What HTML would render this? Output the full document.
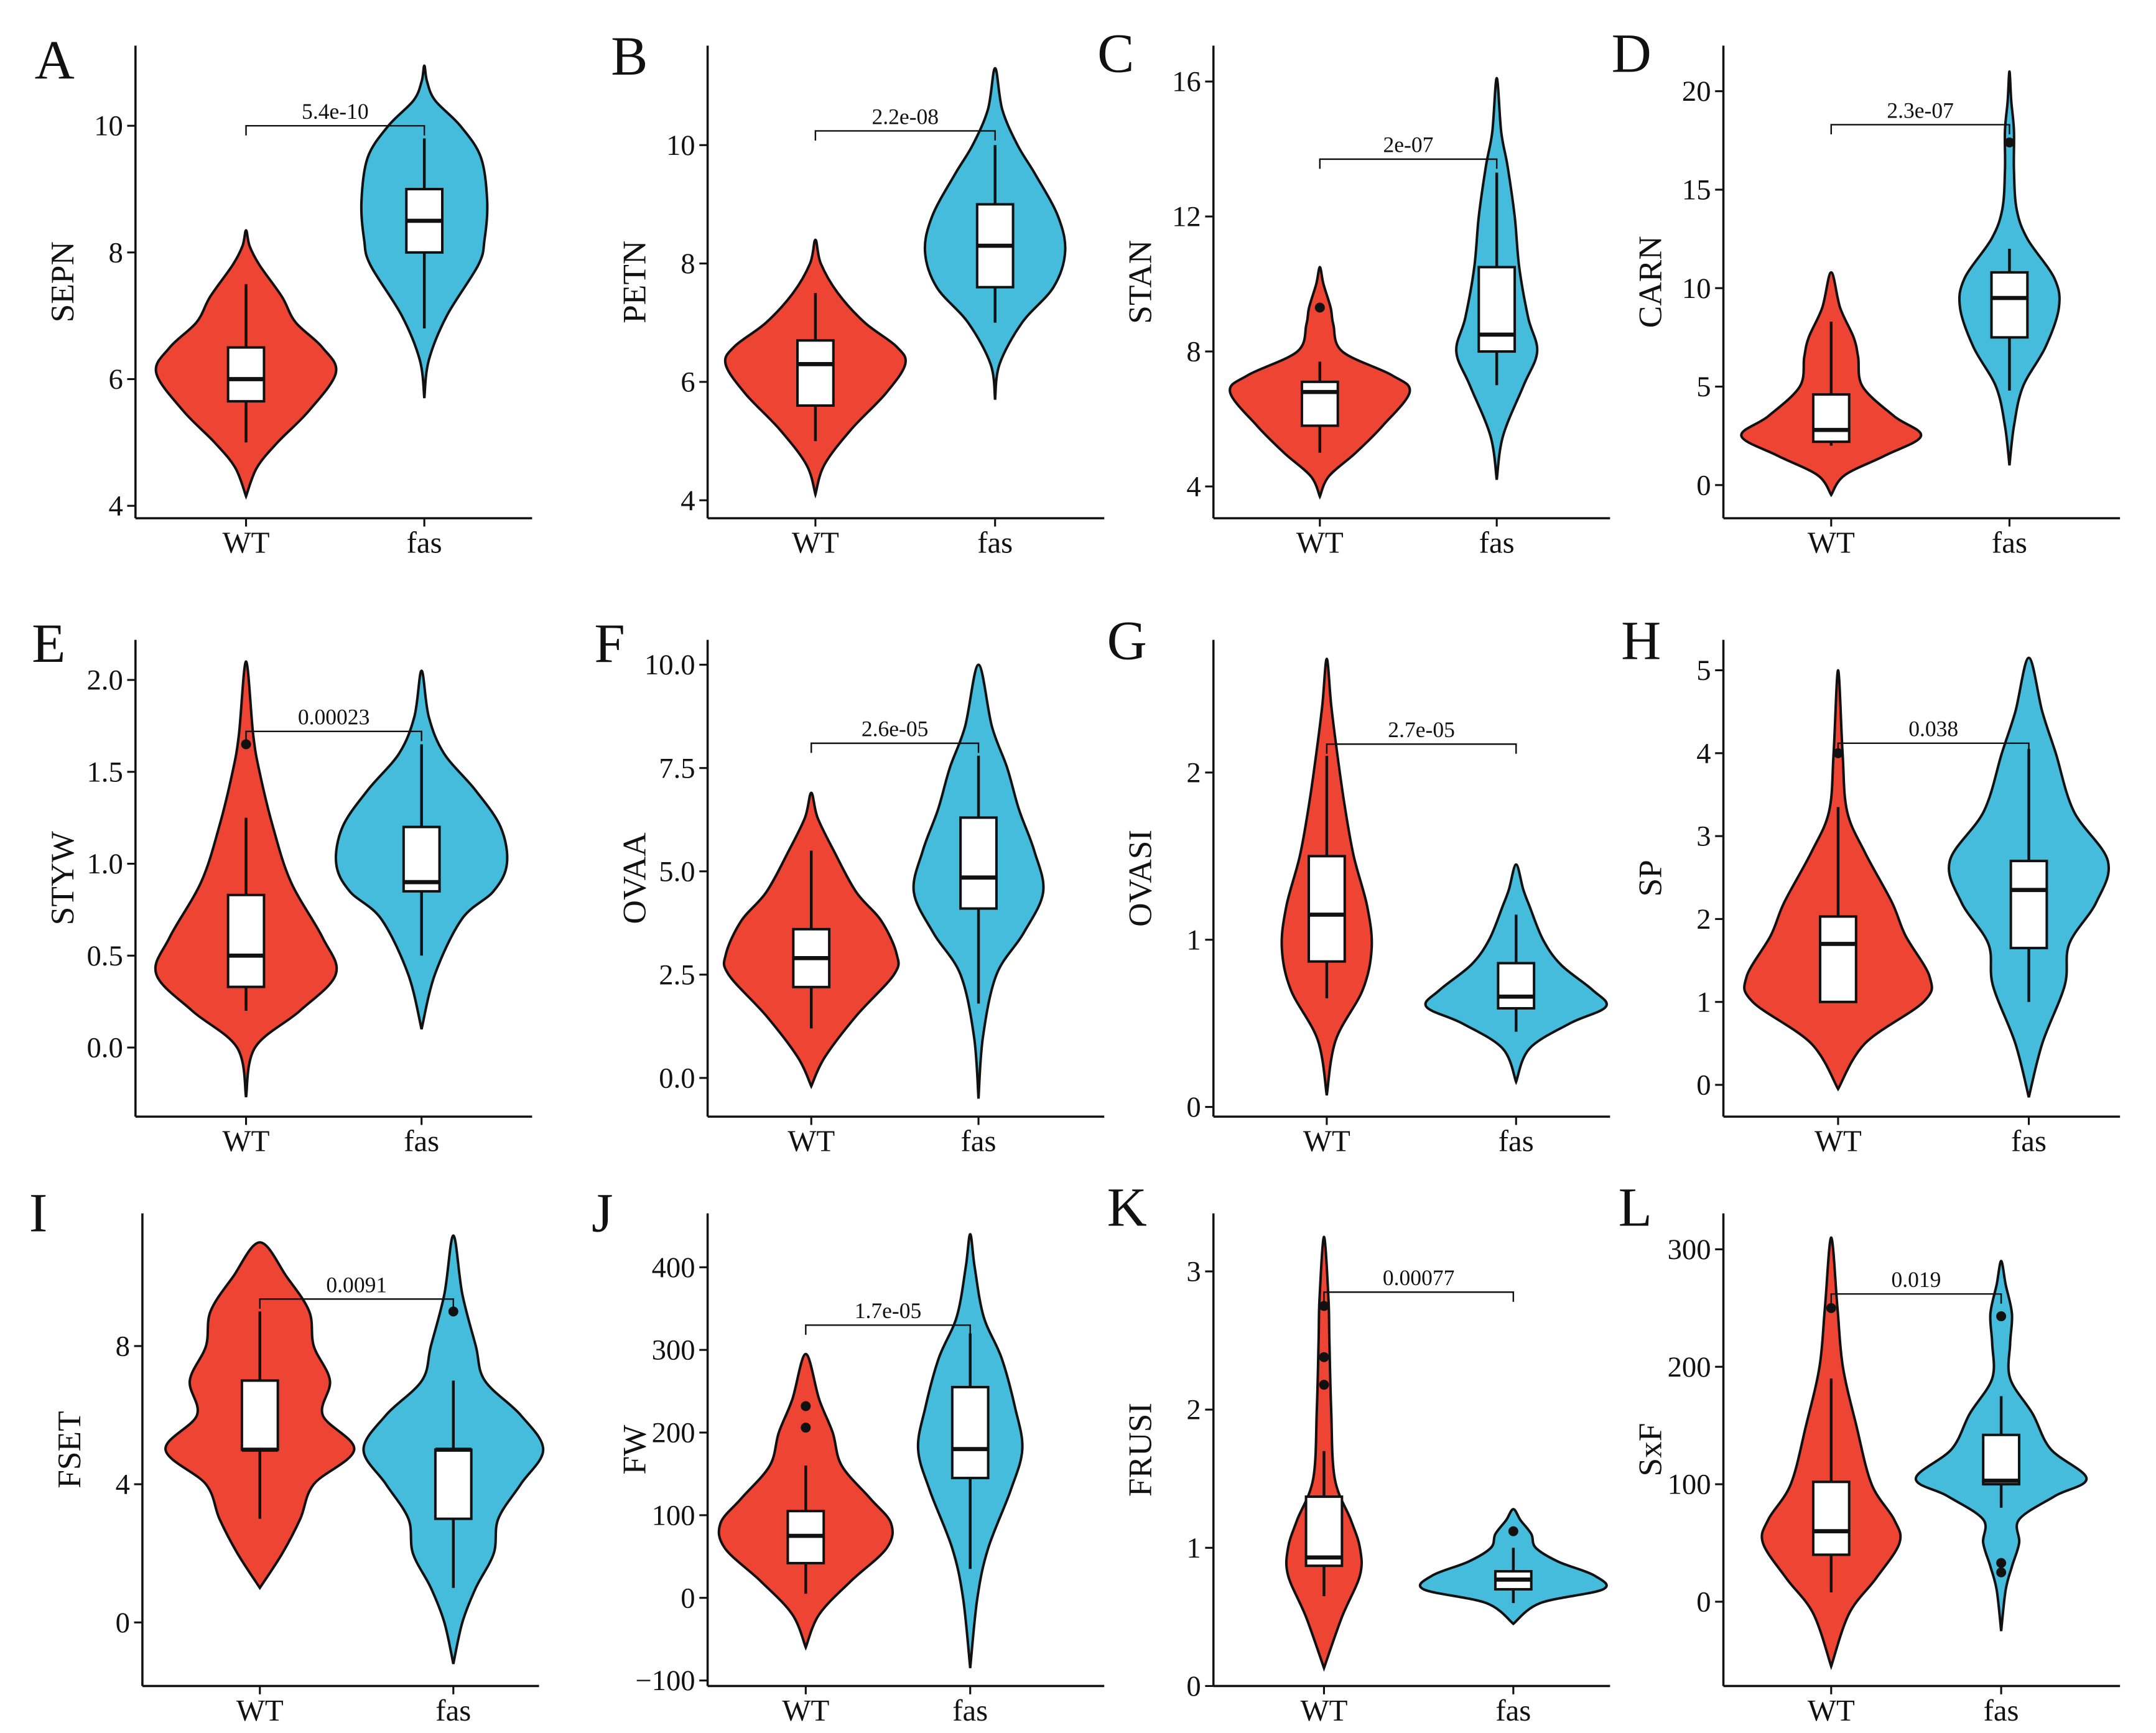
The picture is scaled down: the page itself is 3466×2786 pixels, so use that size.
<!DOCTYPE html>
<html><head><meta charset="utf-8"><style>
html,body{margin:0;padding:0;background:#fff}
svg{display:block}
text{font-family:"Liberation Serif","DejaVu Serif",serif;fill:#111}
</style></head><body>
<svg id="fig" width="3466" height="2786" viewBox="0 0 1560 1254" xmlns="http://www.w3.org/2000/svg"></svg>
<script>
// ---- data ----
const panelLetters=["A","B","C","D","E","F","G","H","I","J","K","L"];
const panelTitles=["SEPN","PETN","STAN","CARN","STYW","OVAA","OVASI","SP","FSET","FW","FRUSI","SxF"];
const groups=["WT","fas"];
const pLabels=["5.4e-10","2.2e-08","2e-07","2.3e-07","0.00023","2.6e-05","2.7e-05","0.038","0.0091","1.7e-05","0.00077","0.019"];
const bracketY=[10.0,10.24,13.7,18.3,1.72,8.1,2.17,4.12,9.36,330,2.85,262];
const tickVals=[[4,6,8,10],[4,6,8,10],[4,8,12,16],[0,5,10,15,20],[0,0.5,1,1.5,2],[0,2.5,5,7.5,10],[0,1,2],[0,1,2,3,4,5],[0,4,8],[-100,0,100,200,300,400],[0,1,2,3],[0,100,200,300]];
const tickLabels=[["4","6","8","10"],["4","6","8","10"],["4","8","12","16"],["0","5","10","15","20"],["0.0","0.5","1.0","1.5","2.0"],["0.0","2.5","5.0","7.5","10.0"],["0","1","2"],["0","1","2","3","4","5"],["0","4","8"],["\u2212100","0","100","200","300","400"],["0","1","2","3"],["0","100","200","300"]];
// density profiles [value, relative density]
const densWT=[
[[4.15,0],[4.6,0.12],[5.0,0.35],[5.5,0.7],[6.1,1.0],[6.5,0.85],[6.9,0.55],[7.3,0.4],[7.8,0.15],[8.1,0.04],[8.35,0]],
[[4.1,0],[4.6,0.1],[5.2,0.4],[5.8,0.78],[6.3,1.0],[6.6,0.9],[7.0,0.55],[7.5,0.25],[8.0,0.06],[8.4,0]],
[[3.7,0],[4.3,0.1],[5.0,0.4],[5.8,0.7],[6.8,1.0],[7.3,0.8],[8.0,0.25],[8.8,0.15],[9.3,0.12],[10.0,0.04],[10.5,0]],
[[-0.5,0],[0.5,0.15],[1.5,0.6],[2.5,1.0],[3.5,0.7],[5.0,0.35],[6.5,0.3],[7.5,0.25],[9.0,0.1],[10.8,0]],
[[-0.27,0],[0.0,0.1],[0.2,0.6],[0.4,1.0],[0.6,0.85],[0.9,0.5],[1.2,0.3],[1.5,0.15],[1.7,0.08],[2.1,0]],
[[-0.2,0],[0.5,0.15],[1.5,0.5],[2.5,0.92],[3.0,0.95],[3.8,0.78],[4.5,0.5],[5.5,0.25],[6.3,0.07],[6.9,0]],
[[0.07,0],[0.4,0.1],[0.7,0.4],[0.95,0.5],[1.2,0.45],[1.5,0.3],[1.8,0.2],[2.1,0.12],[2.4,0.05],[2.68,0]],
[[-0.05,0],[0.5,0.3],[1.0,0.95],[1.3,1.02],[1.8,0.75],[2.2,0.6],[2.8,0.3],[3.3,0.1],[4.0,0.05],[5.0,0]],
[[1,0],[2,0.25],[3,0.45],[4,0.6],[5,1.05],[6,0.7],[7,0.78],[8,0.6],[9,0.55],[10,0.3],[11,0]],
[[-60,0],[-20,0.15],[20,0.5],[60,0.9],[90,0.95],[120,0.72],[160,0.4],[200,0.3],[240,0.15],[295,0]],
[[0.13,0],[0.5,0.2],[0.8,0.4],[1.0,0.4],[1.2,0.3],[1.5,0.12],[2.0,0.08],[2.5,0.06],[2.8,0.05],[3.25,0]],
[[-55,0],[-10,0.2],[20,0.5],[50,0.76],[70,0.7],[100,0.45],[150,0.28],[200,0.13],[250,0.07],[310,0]]];
const densFas=[
[[5.7,0],[6.3,0.05],[7.0,0.25],[7.8,0.6],[8.2,0.67],[8.8,0.7],[9.5,0.63],[10.0,0.4],[10.4,0.12],[10.7,0.03],[10.95,0]],
[[5.7,0],[6.3,0.05],[7.0,0.3],[7.6,0.65],[8.2,0.78],[8.8,0.7],[9.5,0.45],[10.0,0.25],[10.6,0.08],[11.3,0]],
[[4.2,0],[5.5,0.07],[7.0,0.3],[8.0,0.45],[9.0,0.35],[10.5,0.25],[12.0,0.2],[13.5,0.12],[14.5,0.05],[16.1,0]],
[[1.0,0],[3,0.05],[5,0.15],[7,0.4],[9,0.55],[10.5,0.5],[12.5,0.2],[14,0.08],[16,0.05],[18,0.05],[19.5,0.02],[21,0]],
[[0.1,0],[0.4,0.15],[0.7,0.45],[0.85,0.8],[1.0,0.95],[1.2,0.88],[1.4,0.6],[1.6,0.25],[1.8,0.08],[2.05,0]],
[[-0.5,0],[1,0.05],[2.5,0.2],[3.5,0.5],[4.5,0.72],[5.5,0.62],[6.5,0.45],[7.5,0.32],[8.5,0.15],[10,0]],
[[0.15,0],[0.35,0.15],[0.5,0.6],[0.6,1.0],[0.7,0.85],[0.85,0.5],[1.0,0.3],[1.2,0.15],[1.3,0.08],[1.45,0]],
[[-0.15,0],[0.5,0.15],[1.2,0.4],[1.7,0.45],[2.2,0.75],[2.7,0.88],[3.3,0.5],[4.0,0.3],[4.5,0.15],[5.15,0]],
[[-1.2,0],[0,0.1],[1,0.25],[2,0.45],[3,0.5],[4,0.75],[5,1.0],[6,0.75],[7,0.35],[8,0.25],[9.5,0.1],[11.2,0]],
[[-85,0],[0,0.08],[60,0.2],[130,0.45],[180,0.58],[230,0.5],[290,0.35],[340,0.15],[400,0.05],[440,0]],
[[0.45,0],[0.6,0.3],[0.7,1.0],[0.8,0.9],[0.9,0.5],[1.0,0.25],[1.1,0.2],[1.2,0.08],[1.28,0]],
[[-25,0],[10,0.05],[30,0.12],[50,0.2],[70,0.2],[90,0.6],[105,0.95],[130,0.55],[160,0.35],[190,0.1],[220,0.1],[245,0.12],[270,0.05],[290,0]]];
// box stats [whiskerLo, q1, median, q3, whiskerHi]
const boxWT=[[5.0,5.65,6.0,6.5,7.5],[5.0,5.6,6.3,6.7,7.5],[5.0,5.8,6.8,7.1,7.7],[2.0,2.2,2.8,4.6,8.3],[0.2,0.33,0.5,0.83,1.25],[1.2,2.2,2.9,3.6,5.5],[0.65,0.87,1.15,1.5,2.1],[1.0,1.0,1.7,2.03,3.35],[3,5,5,7,9],[5,42,75,105,160],[0.65,0.87,0.93,1.37,1.7],[8,40,60,102,190]];
const boxFas=[[6.8,8.0,8.5,9.0,9.8],[7.0,7.6,8.3,9.0,10.0],[7.0,8.0,8.5,10.5,13.3],[4.8,7.5,9.5,10.8,12.0],[0.5,0.85,0.9,1.2,1.65],[1.8,4.1,4.85,6.3,7.8],[0.45,0.59,0.66,0.86,1.15],[1.0,1.65,2.35,2.7,4.05],[1,3,5,5,7],[35,145,180,255,320],[0.6,0.7,0.77,0.83,1.0],[80,100,103,142,175]];
const outWT=[[],[],[9.3],[],[1.65],[],[],[4.0],[],[232,206],[2.75,2.38,2.18],[250]];
const outFas=[[],[],[],[17.4],[],[],[],[],[9],[],[1.12],[243,33,25]];

// ---- layout ----
const cols=[98,512,878,1247];
const colW=287;
const rowTop=[33,463,878];
const rowBase=[375,808,1220];
// pixel calibration per panel: [value0, pixel0, value1, pixel1]
const calib=[[4,366,10,91],[4,362,10,105],[4,352,16,59],[0,351,20,66],[0,758,2,492],[0,780,10,481],[0,801,2,559],[0,785,5,485],[0,1174,8,974],[-100,1216,400,917],[0,1220,3,920],[0,1159,300,904]];
const wtX=[178,590,955,1325,178,587,960,1330,188,583,958,1325];
const fasX=[307,720,1083,1454,305,708,1097,1468,328,702,1095,1448];
const letterXY=[[25,57],[442,54],[794,52],[1166,52],[23,479],[430,479],[801,477],[1173,477],[21,891],[428,891],[801,887],[1171,887]];
const RED="#ee4433",BLUE="#45bcdc",HALF=65,BOXW=13;

const svg=document.getElementById('fig');
const NS="http://www.w3.org/2000/svg";
function mk(tag,attrs,parent){const e=document.createElementNS(NS,tag);for(const k in attrs)e.setAttribute(k,attrs[k]);(parent||svg).appendChild(e);return e;}
function smooth(pts){let d="M"+pts[0][0].toFixed(2)+","+pts[0][1].toFixed(2);
 for(let i=0;i<pts.length-1;i++){const p0=pts[Math.max(0,i-1)],p1=pts[i],p2=pts[i+1],p3=pts[Math.min(pts.length-1,i+2)];
  const c1=[p1[0]+(p2[0]-p0[0])/6,p1[1]+(p2[1]-p0[1])/6],c2=[p2[0]-(p3[0]-p1[0])/6,p2[1]-(p3[1]-p1[1])/6];
  d+="C"+c1[0].toFixed(2)+","+c1[1].toFixed(2)+" "+c2[0].toFixed(2)+","+c2[1].toFixed(2)+" "+p2[0].toFixed(2)+","+p2[1].toFixed(2);}
 return d;}

for(let p=0;p<12;p++){
 const r=Math.floor(p/4),c=p%4;
 const ax=cols[c]+(p===8?5:0), top=rowTop[r], base=rowBase[r];
 const cb=calib[p];
 const y=v=>cb[1]+(v-cb[0])*(cb[3]-cb[1])/(cb[2]-cb[0]);
 const g=mk('g',{});
 
 
 const L=mk('text',{x:letterXY[p][0],y:letterXY[p][1],'font-size':40},g);L.textContent=panelLetters[p];
 
 // violins
 [[densWT[p],wtX[p],RED,boxWT[p],outWT[p],'wt'],[densFas[p],fasX[p],BLUE,boxFas[p],outFas[p],'fas']].forEach(([dens,cx,col,bx,outs,nm])=>{
  const right=dens.map(d=>[cx+d[1]*HALF,y(d[0])]);
  const left=dens.slice().reverse().map(d=>[cx-d[1]*HALF,y(d[0])]);
  const pts=right.concat(left.slice(1));
  const v=mk('path',{d:smooth(pts)+"Z",fill:col,stroke:"#111",'stroke-width':1.8},g);
  
  const w=mk('line',{x1:cx,x2:cx,y1:y(bx[0]),y2:y(bx[4]),stroke:"#111",'stroke-width':2},g);
  
  const b=mk('rect',{x:cx-BOXW,y:y(bx[3]),width:2*BOXW,height:Math.max(1,y(bx[1])-y(bx[3])),fill:"#fff",stroke:"#111",'stroke-width':1.8},g);
  
  const m=mk('line',{x1:cx-BOXW,x2:cx+BOXW,y1:y(bx[2]),y2:y(bx[2]),stroke:"#111",'stroke-width':3},g);
  
  outs.forEach(o=>{const d=mk('circle',{cx:cx,cy:y(o),r:3.6,fill:"#111"},g);
   });
 });
 // bracket
 const by=y(bracketY[p]);
 const br=mk('path',{d:`M${wtX[p]},${by+7}V${by}H${fasX[p]}V${by+7}`,fill:"none",stroke:"#111",'stroke-width':1.1},g);
 
 const pt=mk('text',{x:(wtX[p]+fasX[p])/2,y:by-5,'font-size':16,'text-anchor':'middle'},g);pt.textContent=pLabels[p];
 
 // axes
 const ya=mk('line',{x1:ax,x2:ax,y1:top,y2:base,stroke:"#111",'stroke-width':1.6},g);
 
 const xa=mk('line',{x1:ax,x2:ax+colW,y1:base,y2:base,stroke:"#111",'stroke-width':1.6},g);
 
 tickVals[p].forEach((tv,i)=>{const ty=y(tv);
  const t=mk('line',{x1:ax-6,x2:ax,y1:ty,y2:ty,stroke:"#111",'stroke-width':1.4},g);
  
  const tl=mk('text',{x:ax-9,y:ty+7,'font-size':21,'text-anchor':'end'},g);tl.textContent=tickLabels[p][i];
  });
 [[wtX[p],groups[0]],[fasX[p],groups[1]]].forEach(([gx,lab])=>{
  const t=mk('line',{x1:gx,x2:gx,y1:base,y2:base+6,stroke:"#111",'stroke-width':1.4},g);
  
  const tl=mk('text',{x:gx,y:base+25,'font-size':22,'text-anchor':'middle'},g);tl.textContent=lab;
  });
 const yt=mk('text',{x:0,y:0,'font-size':24,'text-anchor':'middle',transform:`translate(${ax-45},${(top+base)/2}) rotate(-90)`},g);
 yt.textContent=panelTitles[p];
 
}
</script>
</body></html>
